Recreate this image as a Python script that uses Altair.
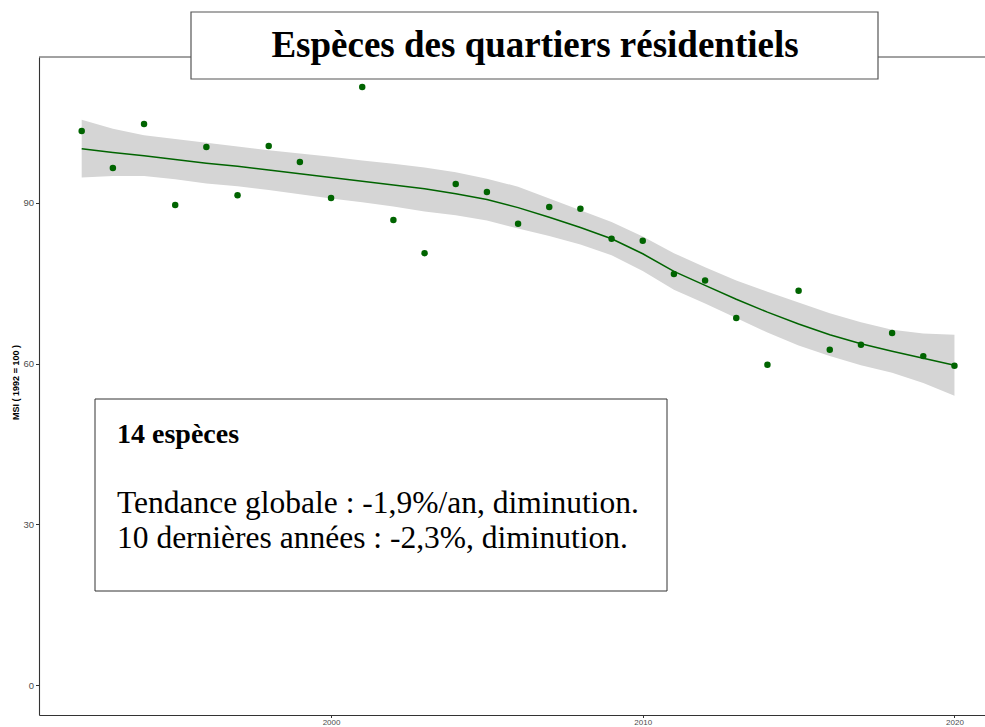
import altair as alt
import pandas as pd

# Yearly multi-species index for residential-area birds (1992 = 100)
years = list(range(1992, 2021))
msi = [103.4, 96.5, 104.7, 89.6, 100.4, 91.4, 100.6, 97.6, 90.9, 111.6,
       86.8, 80.6, 93.5, 92.0, 86.1, 89.2, 88.9, 83.3, 82.9, 76.7,
       75.5, 68.5, 59.8, 73.6, 62.6, 63.5, 65.7, 61.4, 59.6]

# Smoothed trend with its confidence band
trend = [100.1, 99.4, 98.8, 98.1, 97.4, 96.8, 96.1, 95.4, 94.7, 94.0,
         93.3, 92.6, 91.7, 90.6, 89.1, 87.3, 85.4, 83.3, 80.5, 77.2,
         74.6, 72.0, 69.6, 67.4, 65.4, 63.7, 62.3, 61.0, 59.7]
upper = [105.5, 103.8, 102.6, 101.9, 101.2, 100.5, 99.8, 99.2, 98.6, 97.9,
         97.3, 96.6, 95.7, 94.5, 93.0, 90.8, 88.6, 86.4, 83.7, 80.6,
         78.0, 75.5, 73.4, 71.4, 69.4, 67.7, 66.3, 65.6, 65.4]
lower = [94.7, 95.0, 95.0, 94.4, 93.6, 93.1, 92.4, 91.6, 90.8, 90.1,
         89.3, 88.4, 87.7, 86.7, 85.2, 83.8, 82.2, 80.2, 77.3, 73.8,
         71.2, 68.5, 65.8, 63.4, 61.4, 59.7, 58.3, 56.4, 54.0]

title_text = "Espèces des quartiers résidentiels"
box_heading = "14 espèces"
box_lines = ["Tendance globale : -1,9%/an, diminution.",
             "10 dernières années : -2,3%, diminution."]
y_ticks = [0, 30, 60, 90]
x_ticks = [2000, 2010, 2020]

W, H = 946, 658
GREEN = "#006400"

df = pd.DataFrame({"year": years, "msi": msi, "trend": trend,
                   "lower": lower, "upper": upper})
one = pd.DataFrame({"k": [0]})

x_scale = alt.Scale(domain=[1990.63, 2020.98], nice=False, zero=False)
y_scale = alt.Scale(domain=[-5.55, 117.2], nice=False, zero=False)

x_enc = alt.X("year:Q", scale=x_scale,
              axis=alt.Axis(values=x_ticks, format="d", title=None,
                            labelFontSize=8, labelPadding=0.5, tickSize=2.5))
y_axis = alt.Axis(values=y_ticks, title="MSI ( 1992 = 100 )",
                  titleX=-24, titleY=H / 2 - 4, titleAngle=-90,
                  titleAlign="center", titleBaseline="middle",
                  titleFont="Liberation Sans", titleFontSize=9,
                  titleFontWeight="bold", titleColor="black")

band = alt.Chart(df).mark_area(color="#d5d5d5", opacity=1).encode(
    x=x_enc,
    y=alt.Y("lower:Q", scale=y_scale, axis=y_axis),
    y2="upper:Q",
)

line = alt.Chart(df).mark_line(color=GREEN, strokeWidth=1.5).encode(
    x="year:Q", y="trend:Q"
)

points = alt.Chart(df).mark_circle(color=GREEN, size=42, opacity=1).encode(
    x="year:Q", y="msi:Q"
)

# Upper frame line of the panel
top_rule = alt.Chart(one).mark_rule(color="#444444", strokeWidth=1).encode(
    x=alt.value(0), x2=alt.value(W), y=alt.value(0)
)

# Title label box straddling the top frame
title_box = alt.Chart(one).mark_rect(
    fill="white", stroke="#555555", strokeWidth=1.2
).encode(x=alt.value(152), x2=alt.value(839), y=alt.value(-45), y2=alt.value(22))

title_mark = alt.Chart(one).mark_text(
    text=title_text, font="Liberation Serif", fontWeight="bold", fontSize=37,
    align="center", baseline="alphabetic", color="black"
).encode(x=alt.value(496), y=alt.value(-0.5))

# Summary annotation box
note_box = alt.Chart(one).mark_rect(
    fill="white", stroke="#333333", strokeWidth=1
).encode(x=alt.value(56), x2=alt.value(628), y=alt.value(342), y2=alt.value(534))

note_head = alt.Chart(one).mark_text(
    text=box_heading, font="Liberation Serif", fontWeight="bold", fontSize=28,
    align="left", baseline="alphabetic", color="black"
).encode(x=alt.value(78), y=alt.value(386))

note_l1 = alt.Chart(one).mark_text(
    text=box_lines[0], font="Liberation Serif", fontSize=31.5,
    align="left", baseline="alphabetic", color="black"
).encode(x=alt.value(78), y=alt.value(456))

note_l2 = alt.Chart(one).mark_text(
    text=box_lines[1], font="Liberation Serif", fontSize=31.5,
    align="left", baseline="alphabetic", color="black"
).encode(x=alt.value(78), y=alt.value(491))

chart = alt.layer(
    band, line, points, top_rule, title_box, title_mark,
    note_box, note_head, note_l1, note_l2
).properties(
    width=W, height=H,
    autosize=alt.AutoSizeParams(type="none"),
    padding={"left": 39, "top": 57, "right": 0, "bottom": 12},
    background="white",
).configure_view(
    stroke=None
).configure_axis(
    grid=False,
    domainColor="#333333", domainWidth=1.1,
    tickColor="#333333", tickSize=3.5, tickWidth=1,
    labelColor="#4d4d4d", labelFont="Liberation Sans", labelFontSize=9.5,
    labelPadding=2,
)

chart.save("out.html", embed_options={"renderer": "svg", "actions": False})
